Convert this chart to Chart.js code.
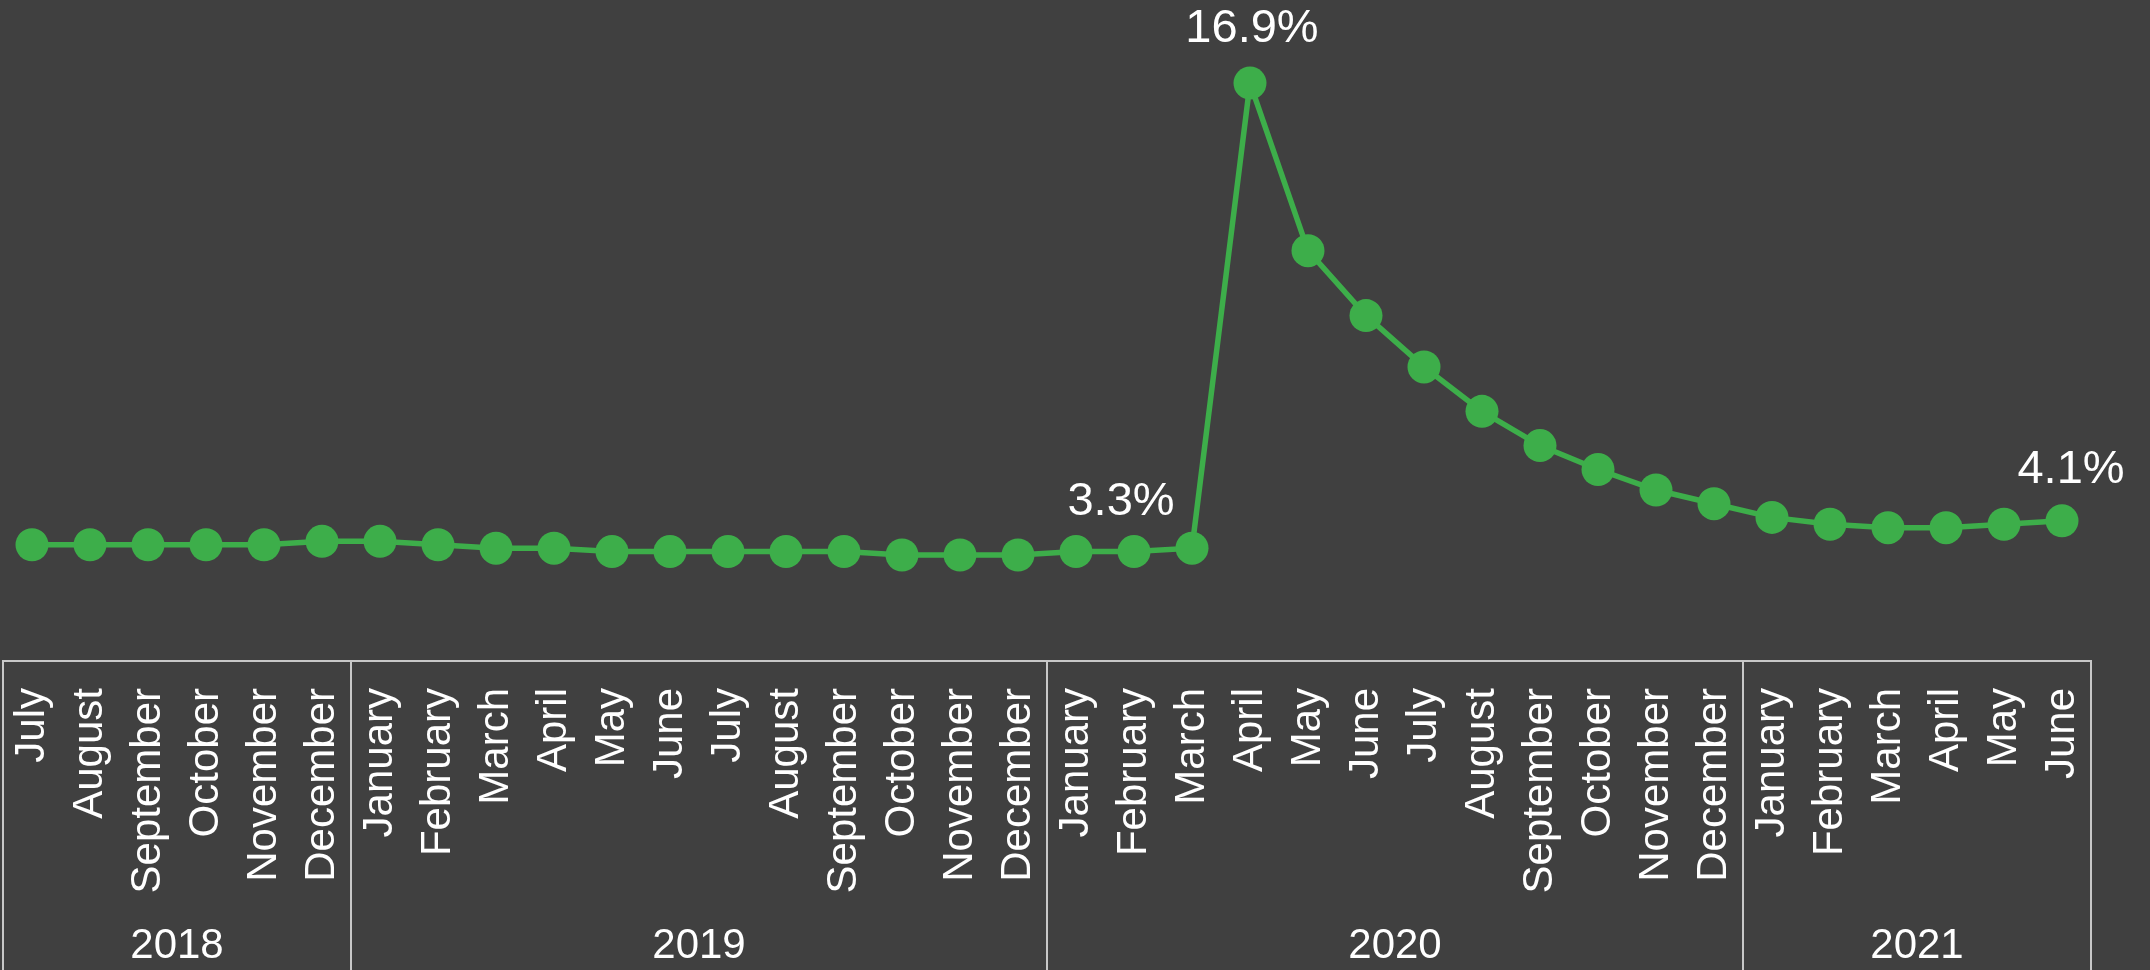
<!DOCTYPE html>
<html>
<head>
<meta charset="utf-8">
<script src="https://cdn.jsdelivr.net/npm/chart.js@4.4.1/dist/chart.umd.min.js"></script>
<style>
    html, body { margin: 0; padding: 0; background: #404040; }
    #wrap { width: 2150px; height: 970px; position: relative; }
</style>
</head>
<body>
<div id="wrap"><canvas id="rateChart"></canvas></div>
<script>
// Months on the axis, year groups below them
const months = [
    'July', 'August', 'September', 'October', 'November', 'December',
    'January', 'February', 'March', 'April', 'May', 'June',
    'July', 'August', 'September', 'October', 'November', 'December',
    'January', 'February', 'March', 'April', 'May', 'June',
    'July', 'August', 'September', 'October', 'November', 'December',
    'January', 'February', 'March', 'April', 'May', 'June'
];
const years = ['2018', '2019', '2020', '2021'];
const monthsPerYear = [6, 12, 12, 6];

// Rate (%) per month
const rates = [
    3.4, 3.4, 3.4, 3.4, 3.4, 3.5,
    3.5, 3.4, 3.3, 3.3, 3.2, 3.2, 3.2, 3.2, 3.2, 3.1, 3.1, 3.1,
    3.2, 3.2, 3.3, 16.9, 12.0, 10.1, 8.6, 7.3, 6.3, 5.6, 5.0, 4.6,
    4.2, 4.0, 3.9, 3.9, 4.0, 4.1
];

// Points that get a value label, with a nudge so the text clears the line
const labelled = [20, 21, 35];
const labelNudge = { 20: [-71, -46], 21: [2, -54], 35: [9, -51] };

const FONT = '"Liberation Sans", Arial, sans-serif';
const GREEN = '#3dae4a';
const BOX = '#c8c8c8';

// Box round the category axis, year dividers and year names
const yearAxisPlugin = {
    id: 'yearAxis',
    afterDraw(chart) {
        const ctx = chart.ctx;
        const x = chart.scales.x;
        const top = x.top;
        const bottom = chart.height;
        const edge = i => x.getPixelForValue(i - 0.5);

        ctx.save();
        ctx.strokeStyle = BOX;
        ctx.lineWidth = 2;
        ctx.beginPath();
        ctx.moveTo(edge(0), bottom);
        ctx.lineTo(edge(0), top);
        ctx.lineTo(edge(months.length), top);
        ctx.lineTo(edge(months.length), bottom);
        ctx.stroke();

        let start = 0;
        ctx.fillStyle = '#ffffff';
        ctx.font = '42px ' + FONT;
        ctx.textAlign = 'center';
        ctx.textBaseline = 'middle';
        years.forEach((yr, k) => {
            const end = start + monthsPerYear[k];
            if (k > 0) {
                ctx.beginPath();
                ctx.moveTo(edge(start), top);
                ctx.lineTo(edge(start), bottom);
                ctx.stroke();
            }
            ctx.fillText(yr, (edge(start) + edge(end)) / 2, 946);
            start = end;
        });
        ctx.restore();
    }
};

// Value labels above the chosen points
const valueLabelPlugin = {
    id: 'valueLabels',
    afterDatasetsDraw(chart) {
        const ctx = chart.ctx;
        const meta = chart.getDatasetMeta(0);
        ctx.save();
        ctx.fillStyle = '#ffffff';
        ctx.font = '47px ' + FONT;
        ctx.textAlign = 'center';
        ctx.textBaseline = 'middle';
        labelled.forEach(i => {
            const pt = meta.data[i];
            const [dx, dy] = labelNudge[i];
            ctx.fillText(rates[i].toFixed(1) + '%', pt.x + dx, pt.y + dy);
        });
        ctx.restore();
    }
};

document.addEventListener('DOMContentLoaded', () => {
    const ctx = document.getElementById('rateChart').getContext('2d');

    new Chart(ctx, {
        type: 'line',
        data: {
            labels: months,
            datasets: [{
                data: rates,
                borderColor: GREEN,
                backgroundColor: GREEN,
                borderWidth: 5.5,
                pointRadius: 16.5,
                pointBorderWidth: 0,
                pointBackgroundColor: GREEN,
                tension: 0,
                clip: false
            }]
        },
        options: {
            responsive: true,
            maintainAspectRatio: false,
            animation: false,
            layout: {
                autoPadding: false,
                padding: { left: 3, right: 59, top: 0, bottom: 0 }
            },
            plugins: {
                legend: { display: false },
                tooltip: { enabled: false }
            },
            scales: {
                y: {
                    display: false,
                    min: 0,
                    max: 19.33
                },
                x: {
                    offset: true,
                    grid: { display: false, drawTicks: false },
                    border: { display: false },
                    ticks: {
                        color: '#ffffff',
                        font: { size: 42, family: FONT },
                        minRotation: 90,
                        maxRotation: 90,
                        autoSkip: false,
                        padding: 27
                    },
                    afterFit(scale) {
                        scale.height = 309;
                        scale.paddingLeft = 0;
                        scale.paddingRight = 0;
                    }
                }
            }
        },
        plugins: [yearAxisPlugin, valueLabelPlugin]
    });
});
</script>
</body>
</html>
